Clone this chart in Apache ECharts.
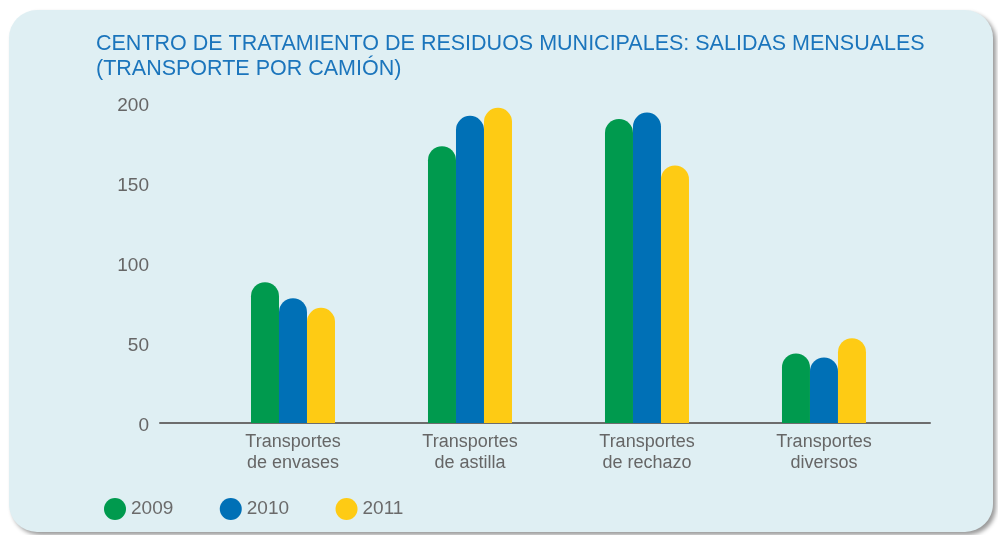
<!DOCTYPE html>
<html>
<head>
<meta charset="utf-8">
<script src="https://cdn.jsdelivr.net/npm/echarts@6/dist/echarts.min.js"></script>
<style>
  html, body { margin: 0; padding: 0; background: #ffffff; }
  #panel {
    position: absolute; left: 9px; top: 10px; width: 984px; height: 522px;
    background: #dfeff3; border-radius: 28px;
    box-shadow: 3px 3px 4px rgba(0, 0, 0, 0.4);
  }
  #chart { position: absolute; left: 0; top: 0; width: 998px; height: 535px; }
</style>
</head>
<body>
<div id="panel"></div>
<div id="chart"></div>
<script>
// Monthly truck departures by type of transport
const categories = [
  'Transportes\nde envases',
  'Transportes\nde astilla',
  'Transportes\nde rechazo',
  'Transportes\ndiversos'
];
const years = ['2009', '2010', '2011'];
const values2009 = [88, 173, 190, 43.5];
const values2010 = [78, 192, 194, 41];
const values2011 = [72, 197, 161, 53];
const yTicks = [0, 50, 100, 150, 200];

const colors = ['#009a4e', '#0070b6', '#fecb14'];
const seriesValues = [values2009, values2010, values2011];
const positions = categories.map((_, i) => i);

const chart = echarts.init(document.getElementById('chart'), null, { renderer: 'canvas' });

const font = "'Liberation Sans', Arial, Helvetica, sans-serif";

chart.setOption({
  backgroundColor: 'transparent',
  animation: false,
  title: {
    text: 'CENTRO DE TRATAMIENTO DE RESIDUOS MUNICIPALES: SALIDAS MENSUALES\n(TRANSPORTE POR CAMIÓN)',
    left: 91,
    top: 27,
    textStyle: {
      color: '#1b75bc',
      fontFamily: font,
      fontSize: 21.5,
      fontWeight: 'normal',
      lineHeight: 25
    }
  },
  legend: {
    left: 99,
    top: 493,
    itemWidth: 22,
    itemHeight: 22,
    itemGap: 46.5,
    icon: 'circle',
    data: years,
    textStyle: { color: '#6b6b6b', fontFamily: font, fontSize: 19 }
  },
  grid: { left: 160, right: 68, top: 103, bottom: 112, containLabel: false },
  xAxis: {
    type: 'value',
    min: -0.7514,
    max: 3.599,
    splitLine: { show: false },
    axisTick: { show: false },
    axisLine: { show: true, onZero: false, lineStyle: { color: '#6d6d6d', width: 2 } },
    axisLabel: {
      customValues: positions,
      formatter: (v) => categories[Math.round(v)] || '',
      color: '#666666',
      fontFamily: font,
      fontSize: 18,
      lineHeight: 21,
      margin: 9,
      showMinLabel: true,
      showMaxLabel: true
    }
  },
  yAxis: {
    type: 'value',
    min: 0,
    max: 200,
    interval: 50,
    splitLine: { show: false },
    axisLine: { show: false },
    axisTick: { show: false },
    axisLabel: {
      customValues: yTicks,
      formatter: '{t|{value}}',
      margin: 11,
      rich: {
        t: {
          color: '#666666',
          fontFamily: font,
          fontSize: 19,
          padding: [6, 0, 0, 0]
        }
      }
    }
  },
  series: years.map((y, s) => ({
    name: y,
    type: 'bar',
    barWidth: 28,
    barGap: '0%',
    itemStyle: { color: colors[s], borderRadius: [14, 14, 0, 0] },
    data: seriesValues[s].map((v, i) => [positions[i], v])
  }))
});
</script>
</body>
</html>
